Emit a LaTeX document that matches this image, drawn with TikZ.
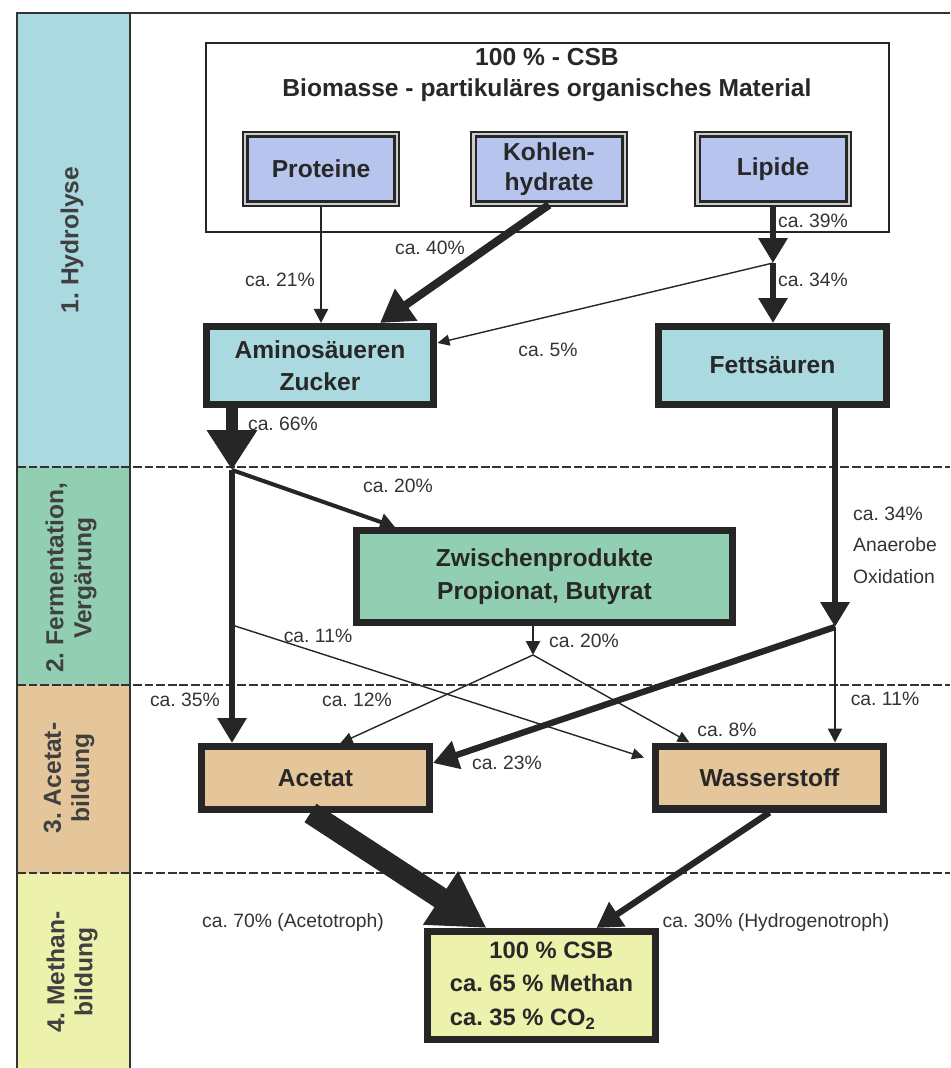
\documentclass[tikz,border=0pt]{standalone}
\usepackage{fontspec}
\setmainfont{Liberation Sans}
\usepackage{tikz}
\usetikzlibrary{arrows.meta, positioning, calc}
\frenchspacing
\definecolor{hydcyan}{RGB}{170,218,224}
\definecolor{fermgreen}{RGB}{146,207,178}
\definecolor{acettan}{RGB}{228,198,154}
\definecolor{methyellow}{RGB}{236,242,172}
\definecolor{srcblue}{RGB}{182,196,238}
\definecolor{inkgray}{RGB}{40,40,40}

\begin{document}
\begin{tikzpicture}[x=0.02cm, y=-0.02cm,
  stagelbl/.style={rotate=90, font=\bfseries\fontsize{14}{16}\selectfont, text=black!75, align=center},
  srcbox/.style={draw=black!85, double=black!20, double distance=1.4pt, line width=1.2pt, fill=srcblue, minimum width=3.03cm, minimum height=1.39cm, inner sep=1pt, font=\bfseries\fontsize{14}{17}\selectfont, align=center, text=inkgray},
  prodbox/.style={draw=black!85, line width=4pt, minimum width=4.56cm, inner sep=1pt, font=\bfseries\fontsize{14}{18.5}\selectfont, align=center, text=inkgray},
  pct/.style={font=\fontsize{11}{18}\selectfont, text=black!80, inner sep=1pt},
  sep/.style={draw=black!80, line width=1pt, dash pattern=on 5pt off 1.6pt},
  flowhair/.style={draw=black!85, line width=0.8pt, -{Triangle[length=0.24cm, width=0.22cm]}},
  flowthin/.style={draw=black!85, line width=1.4pt, -{Triangle[length=0.28cm, width=0.28cm]}},
  flowmid/.style={draw=black!85, line width=2.3pt, -{Triangle[length=0.3cm, width=0.34cm]}},
  flowheavy/.style={draw=black!85, line width=3.6pt, -{Triangle[length=0.5cm, width=0.56cm]}},
  flowbold/.style={draw=black!85, line width=4.6pt, -{Triangle[length=0.64cm, width=0.74cm]}},
  flowmax/.style={draw=black!85, line width=7pt, -{Triangle[length=0.8cm, width=0.96cm]}},
  flowhuge/.style={draw=black!85, line width=12.5pt, -{Triangle[length=1.1cm, width=1.2cm]}}]
  \useasboundingbox (0,0) rectangle (950,1068);
  % stage column
  \fill[hydcyan] (17,13) rectangle (130,467);
  \fill[fermgreen] (17,467) rectangle (130,685);
  \fill[acettan] (17,685) rectangle (130,873);
  \fill[methyellow] (17,873) rectangle (130,1068);
  \draw[line width=1.1pt, black!80] (950,13) -- (17,13) -- (17,1068);
  \draw[line width=1.1pt, black!80] (130,13) -- (130,1068);
  \foreach \yy in {467,685,873}
    \draw[sep] (17,\yy) -- (950,\yy);
  \node[stagelbl] (st1) at (72,240) {1. Hydrolyse};
  \node[stagelbl] (st2) at (71,578) {2. Fermentation,\\Vergärung};
  \node[stagelbl] (st3) at (69,778) {3. Acetat-\\bildung};
  \node[stagelbl] (st4) at (72,972) {4. Methan-\\bildung};
  % substrate
  \node[draw=black!85, line width=1pt, minimum width=13.66cm, minimum height=3.78cm] (bio) at (547.5,137.5) {};
  \node[font=\bfseries\fontsize{14}{17.6}\selectfont, align=center, text=inkgray] (biotitle) at (547,75) {100 \% - CSB\\Biomasse - partikuläres organisches Material};
  \node[srcbox] (prot) at (321,169) {Proteine};
  \node[srcbox] (kohl) at (549,169) {Kohlen-\\hydrate};
  \node[srcbox] (lip) at (773,169) {Lipide};
  % products
  \node[prodbox, fill=hydcyan, minimum height=1.56cm] (amino) at (320,365.5) {Aminosäueren\\Zucker};
  \node[prodbox, fill=hydcyan, minimum height=1.56cm] (fett) at (772.5,365.5) {Fettsäuren};
  \node[prodbox, fill=fermgreen, minimum width=7.52cm, minimum height=1.84cm] (zwisch) at (544.5,576.5) {Zwischenprodukte\\Propionat, Butyrat};
  \node[prodbox, fill=acettan, minimum height=1.26cm] (acet) at (315.5,778) {Acetat};
  \node[prodbox, fill=acettan, minimum height=1.26cm] (wass) at (769.5,777.5) {Wasserstoff};
  \node[prodbox, fill=methyellow, minimum height=2.16cm, align=left, font=\bfseries\fontsize{13.5}{19}\selectfont] (ch4) at (541.5,985.5) {\phantom{ca. }100 \% CSB\\ca. 65 \% Methan\\ca. 35 \% CO\textsubscript{2}};
  % junctions
  \coordinate (jL) at (773,263);
  \coordinate (jA) at (232,470);
  \coordinate (jX) at (232,625);
  \coordinate (jZ) at (533,655);
  \coordinate (jF) at (835,627);
  % flows
  \draw[flowthin] (prot) -- (prot.south |- amino.north);
  \draw[flowbold] (kohl.south) -- ([xshift=1.2cm]amino.north);
  \draw[flowheavy] (lip) -- (jL);
  \draw[flowheavy] (jL) -- (jL |- fett.north);
  \draw[flowhair] (jL) -- ([yshift=0.45cm]amino.east);
  \draw[flowmax] (amino.south -| jA) -- (jA);
  \draw[flowmid] (jA) -- ([xshift=0.84cm]zwisch.north west);
  \draw[flowheavy] (jA) -- (jA |- acet.north);
  \draw[flowhair] (jX) -- ([xshift=-0.16cm,yshift=0.4cm]wass.west);
  \draw[flowthin] (zwisch.south -| jZ) -- (jZ);
  \draw[flowhair] (jZ) -- ([xshift=0.5cm]acet.north);
  \draw[flowhair] (jZ) -- ([xshift=-1.6cm]wass.north);
  \draw[flowheavy] (fett.south -| jF) -- (jF);
  \draw[flowheavy] (jF) -- ([yshift=0.3cm]acet.east);
  \draw[flowthin] (jF) -- (jF |- wass.north);
  \draw[flowhuge] ([xshift=-0.1cm]acet.south) -- ([xshift=-1.1cm]ch4.north);
  \draw[flowheavy] (wass.south) -- ([xshift=1.1cm]ch4.north);
  % percentages
  \node[pct] (p21) at (280,280) {ca. 21\%};
  \node[pct] (p40) at (430,248) {ca. 40\%};
  \node[pct] (p39) at (813,221) {ca. 39\%};
  \node[pct] (p34a) at (813,280) {ca. 34\%};
  \node[pct] (p5) at (548,350) {ca. 5\%};
  \node[pct] (p66) at (283,424) {ca. 66\%};
  \node[pct] (p20a) at (398,486) {ca. 20\%};
  \node[pct] (p11a) at (318,636) {ca. 11\%};
  \node[pct] (p20b) at (584,641) {ca. 20\%};
  \node[pct] (p35) at (185,700) {ca. 35\%};
  \node[pct] (p12) at (357,700) {ca. 12\%};
  \node[pct] (p8) at (727,730) {ca. 8\%};
  \node[pct] (p23) at (507,763) {ca. 23\%};
  \node[pct, align=left, anchor=west] (p34b) at (851,545) {ca. 34\%\\Anaerobe\\Oxidation};
  \node[pct] (p11b) at (885,699) {ca. 11\%};
  \node[pct] (p70) at (293,922) {ca. 70\% (Acetotroph)};
  \node[pct] (p30) at (776,922) {ca. 30\% (Hydrogenotroph)};
\end{tikzpicture}
\end{document}
